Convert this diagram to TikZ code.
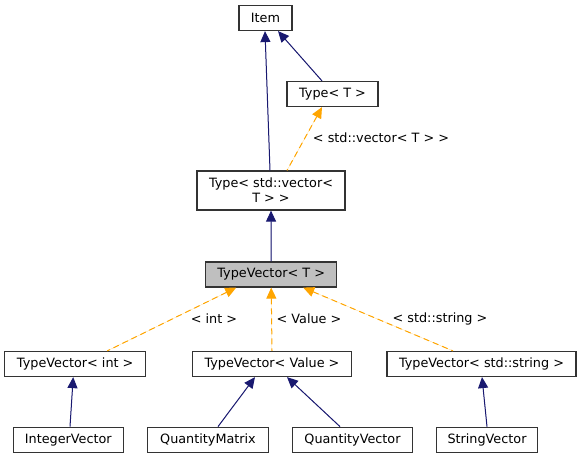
\documentclass[tikz,border=0pt]{standalone}
\usepackage{fontspec}
\setmainfont{DejaVu Sans}
\usepackage{tikz}
\usetikzlibrary{arrows.meta}
\definecolor{edgeblue}{HTML}{191970}
\definecolor{edgeorange}{HTML}{FFA500}
\definecolor{boxline}{HTML}{333333}
\definecolor{boxgray}{HTML}{BFBFBF}
\tikzset{
  cls/.style={
    draw=boxline,
    line width=1.2pt,
    fill=white,
    minimum height=25pt,
    inner sep=0pt,
    align=center,
    font=\fontsize{12.8}{15}\selectfont},
  inh/.style={
    {Triangle[length=11pt,width=10pt]}-,
    draw=edgeblue,
    fill=edgeblue,
    line width=1pt},
  tmpl/.style={
    {Triangle[length=11pt,width=10pt]}-,
    draw=edgeorange,
    fill=edgeorange,
    line width=1pt,
    dash pattern=on 6pt off 4pt},
  lbl/.style={
    font=\fontsize{12.8}{15}\selectfont,
    inner sep=0pt}
  }
\begin{document}
\begin{tikzpicture}[x=1pt,y=-1pt]
		\useasboundingbox (0,0) rectangle (580,459);
		\node [cls, minimum width=53pt] (item) at (265.5,18) {Item};
		\node [cls, minimum width=91pt] (typet) at (332.5,94) {Type< T >};
		\node [cls, minimum width=148pt, minimum height=39pt] (typevec) at (271,190.5) {Type< std::vector<\\T > >};
		\node [cls, minimum width=131pt, fill=boxgray] (tv) at (271.2,274.5) {TypeVector< T >};
		\node [cls, minimum width=141pt] (tvint) at (75.2,364) {TypeVector< int >};
		\node [cls, minimum width=159pt] (tvval) at (272,364) {TypeVector< Value >};
		\node [cls, minimum width=189pt] (tvstr) at (481.5,364) {TypeVector< std::string >};
		\node [cls, minimum width=110pt] (intvec) at (68.3,439.7) {IntegerVector};
		\node [cls, minimum width=121pt] (qmat) at (208,439.7) {QuantityMatrix};
		\node [cls, minimum width=120pt] (qvec) at (352.5,439.7) {QuantityVector};
		\node [cls, minimum width=101pt] (strvec) at (487,439.7) {StringVector};
		\node [lbl] (lblvec) at (381,138) {< std::vector< T > >};
		\node [lbl] (lblint) at (214,319) {< int >};
		\node [lbl] (lblval) at (309,319) {< Value >};
		\node [lbl] (lblstr) at (440,319) {< std::string >};
		\draw [inh] ([xshift=-0.5pt]item.south) to ([xshift=-1pt]typevec.north);
		\draw [inh] ([xshift=12.5pt]item.south) to ([xshift=-10.5pt]typet.north);
		\draw [tmpl] ([xshift=-10.5pt]typet.south) to ([xshift=16pt]typevec.north);
		\draw [inh] (typevec.south) to (tv.north);
		\draw [tmpl] ([xshift=-35pt]tv.south) to ([xshift=32pt]tvint.north);
		\draw [tmpl] (tv.south) to (tvval.north);
		\draw [tmpl] ([xshift=32pt]tv.south) to ([xshift=-28.5pt]tvstr.north);
		\draw [inh] ([xshift=-2pt]tvint.south) to ([xshift=1.7pt]intvec.north);
		\draw [inh] ([xshift=-17pt]tvval.south) to ([xshift=10pt]qmat.north);
		\draw [inh] ([xshift=15pt]tvval.south) to ([xshift=-12.5pt]qvec.north);
		\draw [inh] ([xshift=0.5pt]tvstr.south) to (strvec.north);
	\end{tikzpicture}
\end{document}
